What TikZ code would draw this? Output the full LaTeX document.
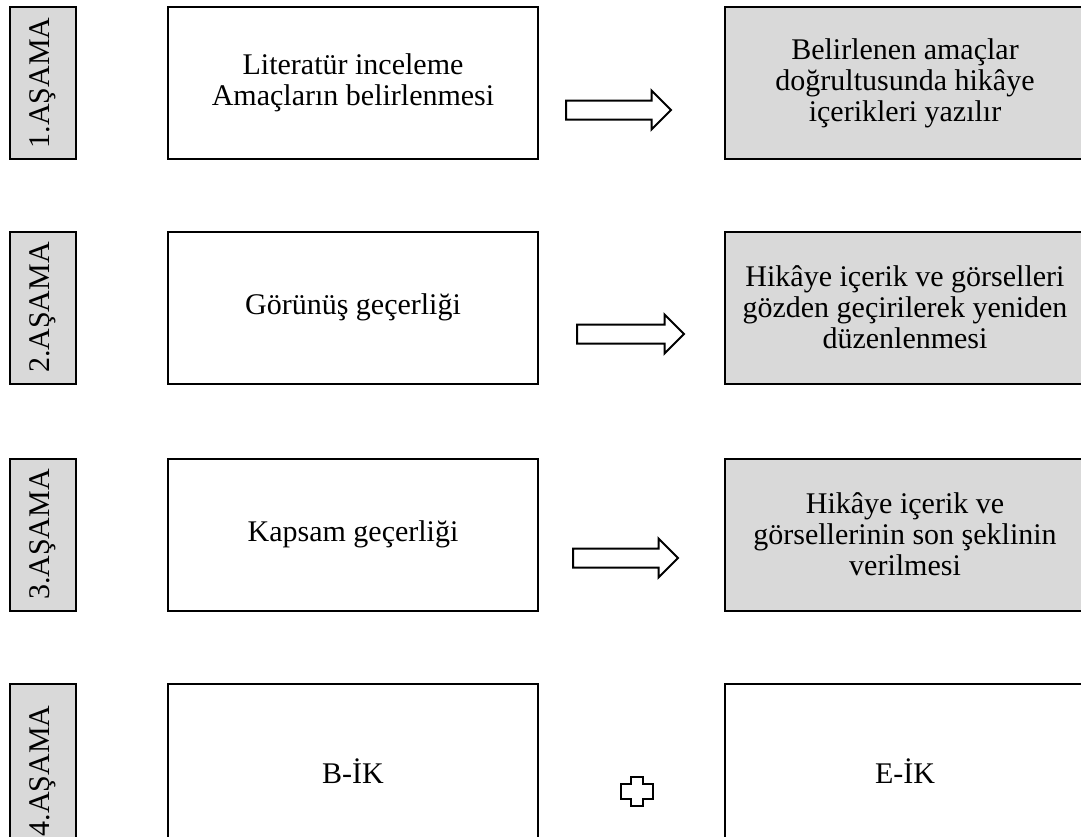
\documentclass[tikz,border=0pt]{standalone}
\usepackage{fontspec}
\setmainfont{Liberation Serif}
\usetikzlibrary{shapes.arrows}

\definecolor{gri}{HTML}{D9D9D9}
\tikzset{
  asama/.style={draw, line width=2pt, fill=gri, rotate=90, minimum width=152pt, minimum height=66pt, inner sep=0pt},
  kutu/.style={draw, line width=2pt, minimum width=370pt, minimum height=152pt, align=center, inner sep=0pt},
  sonuc/.style={kutu, fill=gri, minimum width=360pt},
  ok/.style={draw, line width=2pt, single arrow, single arrow head extend=10pt, minimum height=105pt, inner xsep=0pt, inner ysep=8.5pt, anchor=tail}
}

\begin{document}
\begin{tikzpicture}[x=1pt,y=-1pt,font=\fontsize{30}{31}\selectfont]
\useasboundingbox (0,0) rectangle (1081,836);
\clip (0,0) rectangle (1081,836);

\node[asama] (s1) at (43,83) {1.AŞAMA};
\node[asama] (s2) at (43,307.5) {2.AŞAMA};
\node[asama] (s3) at (43,534.5) {3.AŞAMA};
\node[asama, minimum width=174pt] (s4) at (43,771) {4.AŞAMA};

\node[kutu] (k1) at (353,83) {Literatür inceleme\\Amaçların belirlenmesi};
\node[kutu] (k2) at (353,307.5) {Görünüş geçerliği};
\node[kutu] (k3) at (353,534.5) {Kapsam geçerliği};
\node[kutu, minimum height=174pt] (k4) at (353,771) {B-İK};

\node[sonuc] (h1) at (905,83) {Belirlenen amaçlar\\doğrultusunda hikâye\\içerikleri yazılır};
\node[sonuc] (h2) at (905,307.5) {Hikâye içerik ve görselleri\\gözden geçirilerek yeniden\\düzenlenmesi};
\node[sonuc] (h3) at (905,534.5) {Hikâye içerik ve\\görsellerinin son şeklinin\\verilmesi};
\node[kutu, minimum width=360pt, minimum height=174pt] (h4) at (905,771) {E-İK};

\node[ok] (o1) at (565,110) {};
\node[ok, minimum height=107pt] (o2) at (576,334) {};
\node[ok] (o3) at (572,558) {};

% arti isareti
\coordinate (arti) at (637,791.5);
\draw[line width=2pt, shift={(arti)}] (-6,-14.5) -- (6,-14.5) -- (6,-7.5) -- (16,-7.5) -- (16,7.5)
  -- (6,7.5) -- (6,14.5) -- (-6,14.5) -- (-6,7.5) -- (-16,7.5) -- (-16,-7.5) -- (-6,-7.5) -- cycle;
\end{tikzpicture}
\end{document}
